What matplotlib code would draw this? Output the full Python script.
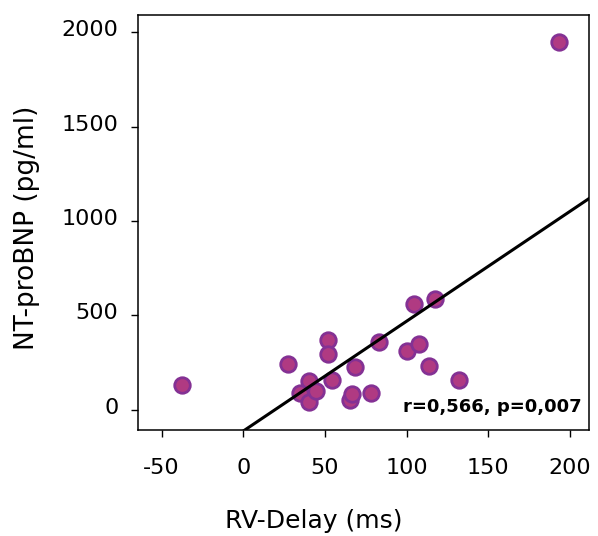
import matplotlib
matplotlib.use("Agg")
import matplotlib.pyplot as plt
import matplotlib.transforms as mtransforms
import numpy as np

plt.rcParams['font.family'] = ['DejaVu Sans']
plt.rcParams['axes.unicode_minus'] = False

# Data
rv_delay = [193.5, -37.7, 27.2, 52.0, 52.0, 40.2, 34.7, 40.4, 44.3, 54.1,
            68.4, 65.3, 66.4, 78.2, 83.3, 100.0, 107.4, 104.5, 117.2, 113.7, 132.3]
nt_probnp = [1947, 131, 242, 369, 293, 152, 87, 39, 101, 157,
             228, 51, 83, 90, 360, 311, 347, 559, 585, 233, 157]
fit_slope = 5.82
fit_intercept = -113.0
x_ticks = [-50, 0, 50, 100, 150, 200]
y_ticks = [0, 500, 1000, 1500, 2000]
annotation = "r=0,566, p=0,007"
x_label = "RV-Delay (ms)"
y_label = "NT-proBNP (pg/ml)"

W, H = 598, 536
fig = plt.figure(figsize=(W / 100, H / 100), dpi=100)
ax = fig.add_axes([138 / W, 106 / H, 451 / W, 415 / H])

xlim = (-64.5, 211.7)
ylim = (-107.6, 2092)
ax.set_xlim(*xlim)
ax.set_ylim(*ylim)

ax.scatter(rv_delay, nt_probnp, s=125, facecolor='#B03A82', edgecolor='#843194',
           linewidth=2.0, zorder=3)
xs = np.array(xlim)
ax.plot(xs, fit_slope * xs + fit_intercept, color='black', linewidth=2.2, zorder=4)

ax.set_xticks(x_ticks)
ax.set_yticks(y_ticks)
ax.tick_params(axis='both', direction='out', length=5, width=1, labelsize=16,
               colors='black')
ax.tick_params(axis='x', pad=15)
ax.tick_params(axis='y', pad=9)
for sp in ax.spines.values():
    sp.set_linewidth(1.1)
    sp.set_color('black')

offset = mtransforms.ScaledTranslation(0, 4 / 100, fig.dpi_scale_trans)
for lbl in ax.get_yticklabels():
    lbl.set_transform(lbl.get_transform() + offset)

ax.text(0.984, 0.0554, annotation, transform=ax.transAxes, ha='right', va='center',
        fontsize=13, fontweight='bold', color='black')

fig.text(314 / W, 1 - 521 / H, x_label, ha='center', va='center', fontsize=18)
fig.text(27 / W, 1 - 228 / H, y_label, ha='center', va='center', fontsize=19,
         rotation=90)

fig.savefig('out.png', dpi=100)
